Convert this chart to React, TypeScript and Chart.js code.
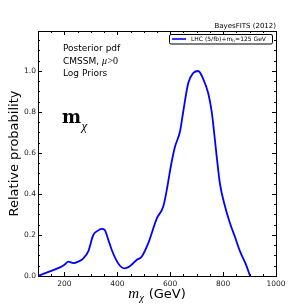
import React, { useEffect, useRef } from "react";
import { Chart, registerables } from "chart.js";

Chart.register(...registerables);

const massGeV: number[] = [100, 130, 160, 183, 200, 215, 234, 252, 271, 290, 309, 325, 341, 352, 365, 379, 395, 410, 425, 440, 454, 473, 492, 517, 549, 574, 587, 602, 618, 637, 649, 668, 687, 706, 725, 744, 757, 766, 776, 788, 805, 826, 845, 864, 885, 902];
const relProb: number[] = [0.0, 0.015, 0.03, 0.042, 0.055, 0.07, 0.063, 0.07, 0.085, 0.12, 0.2, 0.22, 0.23, 0.225, 0.18, 0.127, 0.08, 0.05, 0.037, 0.042, 0.055, 0.078, 0.094, 0.16, 0.28, 0.34, 0.42, 0.533, 0.63, 0.705, 0.8, 0.94, 0.99, 1.0, 0.96, 0.89, 0.8, 0.7, 0.58, 0.45, 0.35, 0.257, 0.19, 0.12, 0.06, 0.0];

const xTickValues: number[] = [200, 400, 600, 800, 1000];
const yTickValues: number[] = [0.0, 0.2, 0.4, 0.6, 0.8, 1.0];
const xMinorStep = 50;
const yMinorStep = 0.05;

const seriesLabel = "LHC (5/fb)+m_h≃125 GeV";
const infoLines: string[] = ["Posterior pdf", "CMSSM, ", "Log Priors"];
const creditText = "BayesFITS (2012)";
const yTitle = "Relative probability";

const overlay = {
  id: "overlay",
  afterDraw(chart: any) {
    const { ctx, chartArea, scales } = chart;
    const { left, right, top, bottom } = chartArea;
    const x = scales.x;
    const y = scales.y;
    ctx.save();
    ctx.strokeStyle = "#000";
    ctx.lineWidth = 1;
    ctx.strokeRect(Math.round(left) + 0.5, Math.round(top) + 0.5, Math.round(right - left), Math.round(bottom - top));
    const xmin = x.min, xmax = x.max;
    for (let v = Math.ceil(xmin / xMinorStep) * xMinorStep; v <= xmax + 1e-6; v += xMinorStep) {
      const px = Math.round(x.getPixelForValue(v)) + 0.5;
      const major = v % 200 === 0;
      const len = major ? 4 : 2;
      ctx.beginPath();
      ctx.moveTo(px, bottom); ctx.lineTo(px, bottom - len);
      ctx.moveTo(px, top); ctx.lineTo(px, top + len);
      ctx.stroke();
    }
    for (let i = 0; i * yMinorStep <= y.max + 1e-9; i++) {
      const v = i * yMinorStep;
      const py = Math.round(y.getPixelForValue(v)) + 0.5;
      const major = i % 4 === 0;
      const len = major ? 4 : 2;
      ctx.beginPath();
      ctx.moveTo(left, py); ctx.lineTo(left + len, py);
      ctx.moveTo(right, py); ctx.lineTo(right - len, py);
      ctx.stroke();
    }
    ctx.fillStyle = "#000";
    ctx.font = "7px 'DejaVu Sans'";
    ctx.textAlign = "right";
    ctx.textBaseline = "alphabetic";
    ctx.fillText(creditText, right, 28);
    ctx.textAlign = "left";
    ctx.font = "9px 'DejaVu Sans'";
    const tx = 63;
    ctx.fillText(infoLines[0], tx, 51);
    ctx.fillText(infoLines[1], tx, 63.5);
    let w = ctx.measureText(infoLines[1]).width;
    ctx.font = "italic 10px 'Liberation Serif'";
    ctx.fillText("μ", tx + w, 63.5);
    w += ctx.measureText("μ").width + 0.5;
    ctx.font = "10px 'Liberation Serif'";
    ctx.fillText(">0", tx + w, 63.5);
    ctx.font = "9px 'DejaVu Sans'";
    ctx.fillText(infoLines[2], tx, 76);
    ctx.font = "bold 18px 'DejaVu Serif'";
    ctx.fillText("m", tx - 1, 122.5);
    const mw = ctx.measureText("m").width;
    ctx.font = "italic 13px 'Liberation Serif'";
    ctx.fillText("χ", tx - 1 + mw + 0.5, 130);
    ctx.font = "italic 15px 'Liberation Serif'";
    const m1 = ctx.measureText("m").width;
    ctx.font = "10px 'Liberation Serif'";
    const c1 = ctx.measureText("χ").width;
    ctx.font = "13px 'DejaVu Sans'";
    const g1 = ctx.measureText(" (GeV)").width;
    const total = m1 + c1 + g1 + 1;
    let sx = (left + right) / 2 - total / 2;
    const by = 298;
    ctx.font = "italic 15px 'Liberation Serif'";
    ctx.fillText("m", sx, by);
    sx += m1 + 0.5;
    ctx.font = "italic 10px 'Liberation Serif'";
    ctx.fillText("χ", sx, by + 3);
    sx += c1 + 0.5;
    ctx.font = "13px 'DejaVu Sans'";
    ctx.fillText(" (GeV)", sx, by);
    ctx.save();
    ctx.translate(18, (top + bottom) / 2);
    ctx.rotate(-Math.PI / 2);
    ctx.textAlign = "center";
    ctx.font = "13px 'DejaVu Sans'";
    ctx.fillText(yTitle, 0, 0);
    ctx.restore();
    const lx = 169, ly = 34, lw = 103, lh = 9.5;
    ctx.fillStyle = "#fff";
    ctx.beginPath();
    ctx.roundRect(lx + 0.5, ly + 0.5, lw, lh, 1.5);
    ctx.fill();
    ctx.strokeStyle = "#000";
    ctx.lineWidth = 1;
    ctx.stroke();
    ctx.strokeStyle = "#0000ff";
    ctx.lineWidth = 1.6;
    ctx.beginPath();
    ctx.moveTo(172, ly + 5); ctx.lineTo(186, ly + 5);
    ctx.stroke();
    ctx.fillStyle = "#000";
    ctx.font = "6px 'DejaVu Sans'";
    const parts = seriesLabel.split("m_h");
    let lxText = 191;
    const lby = ly + 7.2;
    ctx.fillText(parts[0] + "m", lxText, lby);
    lxText += ctx.measureText(parts[0] + "m").width;
    ctx.font = "4px 'DejaVu Sans'";
    ctx.fillText("h", lxText, lby + 1.2);
    lxText += ctx.measureText("h").width + 0.3;
    ctx.font = "6px 'DejaVu Sans'";
    ctx.fillText(parts[1], lxText, lby);
    ctx.restore();
  },
};

export default function App() {
  const ref = useRef<HTMLCanvasElement | null>(null);
  useEffect(() => {
    if (!ref.current) return;
    const chart = new Chart(ref.current, {
      type: "line",
      data: {
        datasets: [
          {
            label: seriesLabel,
            data: massGeV.map((m, i) => ({ x: m, y: relProb[i] })),
            borderColor: "#0000ff",
            borderWidth: 1.8,
            pointRadius: 0,
            fill: false,
            cubicInterpolationMode: "monotone",
          },
        ],
      },
      plugins: [overlay],
      options: {
        animation: false,
        responsive: false,
        maintainAspectRatio: false,
        layout: { padding: { top: 31, right: 31, left: 0, bottom: 0 } },
        plugins: { legend: { display: false }, tooltip: { enabled: false } },
        scales: {
          x: {
            type: "linear",
            min: 100,
            max: 1000,
            grid: { display: false, drawTicks: false },
            border: { display: false },
            afterBuildTicks: (s: any) => { s.ticks = xTickValues.map((v) => ({ value: v })); },
            afterFit: (s: any) => { s.height = 31; },
            ticks: {
              autoSkip: false,
              maxRotation: 0,
              padding: 4,
              color: "#222",
              font: { family: "DejaVu Sans", size: 7.5 },
              callback: (v: any) => String(v),
            },
          },
          y: {
            type: "linear",
            min: 0,
            max: 1.195,
            grid: { display: false, drawTicks: false },
            border: { display: false },
            afterBuildTicks: (s: any) => { s.ticks = yTickValues.map((v) => ({ value: v })); },
            afterFit: (s: any) => { s.width = 38; },
            ticks: {
              autoSkip: false,
              padding: 2,
              color: "#222",
              font: { family: "DejaVu Sans", size: 7.5 },
              callback: (v: any) => Number(v).toFixed(1),
            },
          },
        },
      },
    });
    return () => chart.destroy();
  }, []);
  return (
    <div style={{ position: "absolute", left: 0, top: 0, width: 307, height: 307, background: "#fff" }}>
      <canvas ref={ref} width={307} height={307} style={{ width: 307, height: 307 }} />
    </div>
  );
}
